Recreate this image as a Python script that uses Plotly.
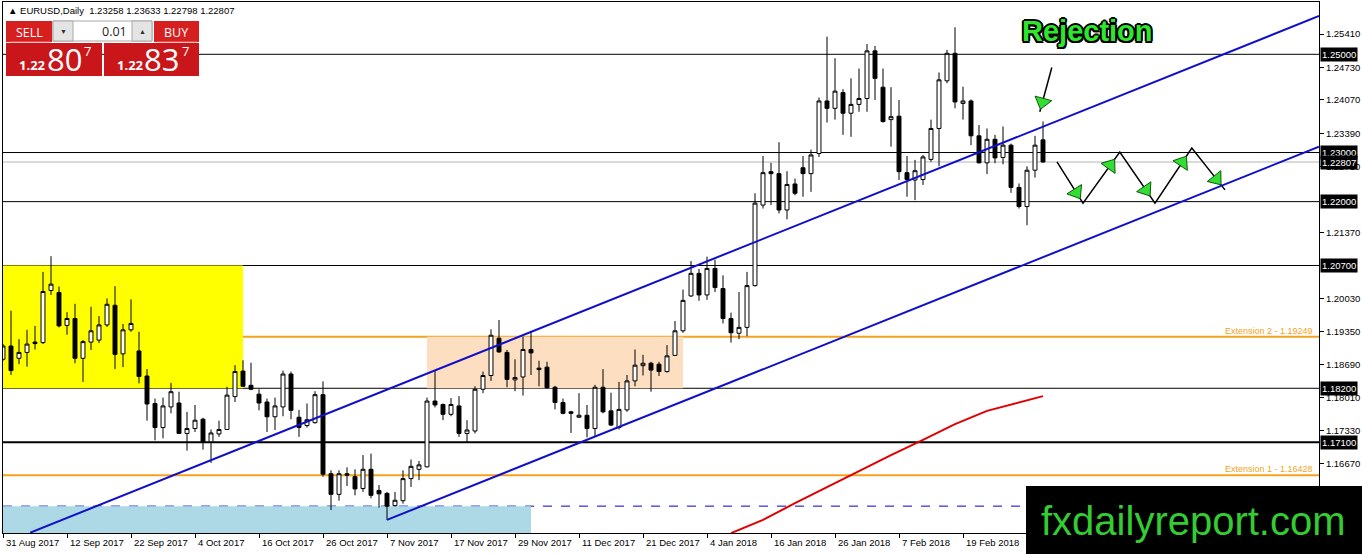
import math
import plotly.graph_objects as go

# ---------------- data ----------------
bars = list(range(131))
opens = [1.1879,1.1906,1.1881,1.1893,1.1914,1.1913,1.2019,1.2015,1.1948,1.1962,
         1.1881,1.1914,1.1918,1.1949,1.1989,1.1890,1.1939,1.1896,1.1845,1.1789,
         1.1740,1.1782,1.1790,1.1728,1.1738,1.1757,1.1711,1.1727,1.1736,1.1803,
         1.1855,1.1826,1.1808,1.1792,1.1762,1.1782,1.1849,1.1761,1.1744,1.1750,
         1.1807,1.1646,1.1604,1.1646,1.1640,1.1616,1.1655,1.1612,1.1606,1.1581,
         1.1591,1.1636,1.1655,1.1660,1.1794,1.1787,1.1767,1.1784,1.1728,1.1733,
         1.1818,1.1846,1.1922,1.1893,1.1837,1.1843,1.1899,1.1861,1.1863,1.1822,
         1.1791,1.1772,1.1761,1.1765,1.1738,1.1822,1.1774,1.1740,1.1776,1.1835,
         1.1866,1.1871,1.1869,1.1854,1.1887,1.1937,1.2008,1.2054,1.2010,1.2064,
         1.2023,1.1962,1.1932,1.1944,1.2029,1.2193,1.2261,1.2257,1.2183,1.2236,
         1.2269,1.2257,1.2298,1.2405,1.2390,1.2422,1.2380,1.2398,1.2410,1.2507,
         1.2433,1.2367,1.2374,1.2259,1.2244,1.2245,1.2286,1.2349,1.2446,1.2502,
         1.2400,1.2405,1.2334,1.2279,1.2327,1.2290,1.2315,1.2229,1.2190,1.2264,
         1.23258]
highs = [1.1910,1.1978,1.1920,1.1939,1.1947,1.2057,1.2089,1.2027,1.1975,1.1992,
         1.1918,1.1986,1.1967,1.2003,1.2028,1.1951,1.2001,1.1935,1.1859,1.1799,
         1.1801,1.1831,1.1813,1.1772,1.1786,1.1760,1.1736,1.1754,1.1823,1.1867,
         1.1877,1.1872,1.1818,1.1799,1.1801,1.1856,1.1854,1.1776,1.1789,1.1814,
         1.1834,1.1653,1.1653,1.1659,1.1655,1.1684,1.1687,1.1623,1.1609,1.1609,
         1.1653,1.1675,1.1672,1.1801,1.1855,1.1789,1.1800,1.1804,1.1755,1.1824,
         1.1854,1.1940,1.1959,1.1898,1.1879,1.1925,1.1937,1.1876,1.1874,1.1825,
         1.1799,1.1774,1.1810,1.1786,1.1827,1.1859,1.1811,1.1833,1.1847,1.1899,
         1.1888,1.1874,1.1874,1.1908,1.1957,1.2021,1.2079,1.2063,1.2088,1.2082,
         1.2050,1.1974,1.2016,1.2057,1.2217,1.2293,1.2279,1.2321,1.2262,1.2247,
         1.2293,1.2306,1.2412,1.2536,1.2492,1.2429,1.2451,1.2471,1.2521,1.2517,
         1.2471,1.2433,1.2407,1.2293,1.2285,1.2295,1.2367,1.2463,1.2509,1.2555,
         1.2434,1.2408,1.2356,1.2349,1.2336,1.2353,1.2318,1.2237,1.2272,1.2334,
         1.23633]
lows = [1.1876,1.1847,1.1869,1.1864,1.1899,1.1910,1.2010,1.1944,1.1929,1.1871,
        1.1833,1.1898,1.1912,1.1945,1.1859,1.1863,1.1935,1.1830,1.1754,1.1714,
        1.1718,1.1769,1.1727,1.1693,1.1731,1.1695,1.1668,1.1721,1.1735,1.1792,
        1.1823,1.1816,1.1775,1.1731,1.1735,1.1763,1.1757,1.1721,1.1740,1.1748,
        1.1640,1.1572,1.1591,1.1621,1.1602,1.1609,1.1596,1.1577,1.1552,1.1579,
        1.1585,1.1619,1.1633,1.1659,1.1781,1.1755,1.1763,1.1721,1.1709,1.1728,
        1.1810,1.1835,1.1892,1.1822,1.1814,1.1805,1.1847,1.1824,1.1820,1.1777,
        1.1767,1.1729,1.1760,1.1720,1.1721,1.1769,1.1743,1.1736,1.1772,1.1824,
        1.1846,1.1813,1.1845,1.1852,1.1886,1.1933,1.2006,1.1998,1.2000,1.2016,
        1.1952,1.1913,1.1920,1.1926,1.2027,1.2186,1.2193,1.2176,1.2164,1.2213,
        1.2210,1.2220,1.2291,1.2361,1.2367,1.2336,1.2332,1.2383,1.2383,1.2407,
        1.2361,1.2312,1.2244,1.2210,1.2203,1.2234,1.2281,1.2272,1.2441,1.2390,
        1.2367,1.2315,1.2278,1.2256,1.2278,1.2276,1.2218,1.2186,1.2152,1.2249,
        1.22798]
closes = [1.1906,1.1856,1.1893,1.1910,1.1911,1.2017,1.2032,1.1947,1.1962,1.1881,
          1.1915,1.1937,1.1949,1.1991,1.1889,1.1939,1.1952,1.1844,1.1788,1.1740,
          1.1784,1.1813,1.1728,1.1738,1.1755,1.1711,1.1729,1.1736,1.1806,1.1854,
          1.1824,1.1818,1.1790,1.1762,1.1784,1.1849,1.1775,1.1740,1.1756,1.1807,
          1.1645,1.1604,1.1646,1.1643,1.1615,1.1655,1.1602,1.1605,1.1580,1.1592,
          1.1636,1.1661,1.1664,1.1794,1.1786,1.1767,1.1787,1.1728,1.1735,1.1818,
          1.1846,1.1928,1.1894,1.1838,1.1842,1.1899,1.1892,1.1858,1.1821,1.1791,
          1.1769,1.1769,1.1765,1.1738,1.1822,1.1772,1.1745,1.1777,1.1835,1.1867,
          1.1871,1.1857,1.1854,1.1886,1.1937,1.1999,1.2054,1.2010,1.2064,1.2025,
          1.1962,1.1933,1.1944,1.2029,1.2197,1.2259,1.2257,1.2183,1.2235,1.2217,
          1.2257,1.2295,1.2405,1.2390,1.2425,1.2380,1.2398,1.2410,1.2507,1.2451,
          1.2363,1.2373,1.2261,1.2245,1.2263,1.2291,1.2349,1.2448,1.2502,1.2403,
          1.2405,1.2334,1.2279,1.2327,1.2289,1.2315,1.2229,1.2190,1.2264,1.2315,
          1.22807]

date_tick_bars = [0, 8, 16, 24, 32, 40, 48, 56, 64, 72, 80, 88, 96, 104, 112, 120]
date_tick_labels = ["31 Aug 2017", "12 Sep 2017", "22 Sep 2017", "4 Oct 2017",
                    "16 Oct 2017", "26 Oct 2017", "7 Nov 2017", "17 Nov 2017",
                    "29 Nov 2017", "11 Dec 2017", "21 Dec 2017", "4 Jan 2018",
                    "16 Jan 2018", "26 Jan 2018", "7 Feb 2018", "19 Feb 2018"]

price_ticks = [1.25410, 1.24730, 1.24070, 1.23390, 1.22710, 1.21370, 1.20030,
               1.19350, 1.18690, 1.18010, 1.17330, 1.16670, 1.15990]

level_lines = [1.25000, 1.23000, 1.22000, 1.20700, 1.18200]
thick_level = 1.17100
bid_level = 1.22807
marked_levels = [1.25000, 1.23000, 1.22807, 1.22000, 1.20700, 1.18200, 1.17100]
ext_levels = [1.19249, 1.16428]
ext_names = ["Extension 2 - 1.19249", "Extension 1 - 1.16428"]
dashed_level = 1.1580

ma_bars = [91, 95, 99, 103, 107, 111, 115, 119, 123, 127, 130]
ma_vals = [1.1525, 1.1552, 1.1586, 1.1619, 1.1651, 1.1684, 1.1715, 1.1747, 1.1774, 1.1792, 1.1804]

upper_x = [3.4, 164.5]
upper_y = [1.1526, 1.2578]
lower_x = [48.0, 164.5]
lower_y = [1.1552, 1.2312]

zig_x = [131.75, 135.0, 139.6, 144.0, 148.6, 152.75]
zig_y = [1.2281, 1.2197, 1.2301, 1.2197, 1.2309, 1.2224]

rej_x = [131.1, 129.6]
rej_y = [1.2473, 1.2383]

yellow_x = [0, 30]
yellow_y = [1.1820, 1.2070]
peach_x = [53, 85]
peach_y = [1.1820, 1.19249]
blue_x = [0, 66]

# ---------------- layout geometry ----------------
W, H = 1362, 554
ML, MR, MT, MB = 3, 43, 2, 21
PW = W - ML - MR
PH = H - MT - MB
XR = [0, 164.5]
YR = [1.15253, 1.26065]
px_per_bar = PW / (XR[1] - XR[0])
px_per_price = PH / (YR[1] - YR[0])


def fx(px):
    return (px - ML) / PW


def fy(py):
    return (MT + PH - py) / PH


AXFONT = dict(family="Liberation Sans, Arial, sans-serif", size=9.5, color="black")
PANEL_FONT = "Open Sans, Noto Sans, sans-serif"

fig = go.Figure()

shapes = []
# background rectangles
shapes.append(dict(type="rect", xref="x", yref="y", x0=yellow_x[0] - 1, x1=yellow_x[1],
                   y0=yellow_y[0], y1=yellow_y[1], fillcolor="#FFFF00", line=dict(width=0), layer="below"))
shapes.append(dict(type="rect", xref="x", yref="y", x0=peach_x[0], x1=peach_x[1],
                   y0=peach_y[0], y1=peach_y[1], fillcolor="#FDDEC0", line=dict(width=0), layer="below"))
shapes.append(dict(type="rect", xref="x", yref="y", x0=blue_x[0] - 1, x1=blue_x[1],
                   y0=YR[0] - 0.01, y1=dashed_level, fillcolor="#ADD8E6", line=dict(width=0), layer="below"))
# horizontal levels
for lv in level_lines:
    shapes.append(dict(type="line", xref="paper", yref="y", x0=0, x1=1, y0=lv, y1=lv,
                       line=dict(color="black", width=1), layer="below"))
shapes.append(dict(type="line", xref="paper", yref="y", x0=0, x1=1, y0=thick_level, y1=thick_level,
                   line=dict(color="black", width=2), layer="below"))
shapes.append(dict(type="line", xref="paper", yref="y", x0=0, x1=1, y0=bid_level, y1=bid_level,
                   line=dict(color="#B4B4B4", width=1), layer="below"))
for lv in ext_levels:
    shapes.append(dict(type="line", xref="paper", yref="y", x0=0, x1=1, y0=lv, y1=lv,
                       line=dict(color="#F5A21E", width=2), layer="below"))
shapes.append(dict(type="line", xref="paper", yref="y", x0=0, x1=1, y0=dashed_level, y1=dashed_level,
                   line=dict(color="#0000CD", width=1, dash="dash"), layer="below"))
# channel lines
for xs, ys in ((upper_x, upper_y), (lower_x, lower_y)):
    shapes.append(dict(type="line", xref="x", yref="y", x0=xs[0], x1=xs[1], y0=ys[0], y1=ys[1],
                       line=dict(color="#1010C8", width=2), layer="above"))

# one-click trading panel (UI decoration, pixel placed)
def prect(x0, y0, x1, y1, fill, line_color=None, lw=0):
    return dict(type="rect", xref="paper", yref="paper", x0=fx(x0), x1=fx(x1), y0=fy(y1), y1=fy(y0),
                fillcolor=fill, line=dict(color=line_color or fill, width=lw), layer="above")

shapes.append(prect(6, 21, 52, 42, "#D61F1F"))
shapes.append(prect(6, 43, 102, 76, "#C8161B"))
shapes.append(prect(154, 21, 199, 42, "#D61F1F"))
shapes.append(prect(104, 43, 199, 76, "#C8161B"))
shapes.append(dict(type="line", xref="paper", yref="paper", x0=fx(10), x1=fx(50), y0=fy(42), y1=fy(42),
                   line=dict(color="#F08080", width=1), layer="above"))
shapes.append(dict(type="line", xref="paper", yref="paper", x0=fx(157), x1=fx(197), y0=fy(42), y1=fy(42),
                   line=dict(color="#F08080", width=1), layer="above"))
shapes.append(prect(53, 21, 152, 41, "#FFFFFF", "#A8A8A8", 1))
shapes.append(prect(53, 21, 73, 41, "#E4E4E4", "#A8A8A8", 1))
shapes.append(prect(132, 21, 152, 41, "#E4E4E4", "#A8A8A8", 1))
# watermark box
shapes.append(dict(type="rect", xref="paper", yref="paper", x0=fx(1026), x1=fx(1364), y0=fy(556), y1=fy(486),
                   fillcolor="black", line=dict(width=0), layer="above"))

# ---------------- traces ----------------
fig.add_trace(go.Candlestick(
    x=bars, open=opens, high=highs, low=lows, close=closes,
    increasing=dict(line=dict(color="black", width=1), fillcolor="white"),
    decreasing=dict(line=dict(color="black", width=1), fillcolor="black"),
    whiskerwidth=0, hoverinfo="skip", showlegend=False))

fig.add_trace(go.Scatter(x=ma_bars, y=ma_vals, mode="lines",
                         line=dict(color="#E00000", width=2), hoverinfo="skip", showlegend=False))

# projection zig-zag + rejection arrow
fig.add_trace(go.Scatter(x=zig_x, y=zig_y, mode="lines", line=dict(color="black", width=1.5),
                         hoverinfo="skip", showlegend=False))
fig.add_trace(go.Scatter(x=rej_x, y=rej_y, mode="lines", line=dict(color="black", width=1.5),
                         hoverinfo="skip", showlegend=False))

head_x, head_y, head_a = [], [], []
segments = [((zig_x[k], zig_y[k]), (zig_x[k + 1], zig_y[k + 1]), 0.74) for k in range(len(zig_x) - 1)]
segments.append(((rej_x[0], rej_y[0]), (rej_x[1], rej_y[1]), 0.78))
for (x1, y1), (x2, y2), f in segments:
    head_x.append(x1 + f * (x2 - x1))
    head_y.append(y1 + f * (y2 - y1))
    dxp = (x2 - x1) * px_per_bar
    dyp = -(y2 - y1) * px_per_price
    head_a.append(math.degrees(math.atan2(dxp, -dyp)))
fig.add_trace(go.Scatter(x=head_x, y=head_y, mode="markers",
                         marker=dict(symbol="triangle-up", size=15, angle=head_a, color="#33DD33",
                                     line=dict(color="#0B5A0B", width=1)),
                         hoverinfo="skip", showlegend=False))

# ---------------- annotations ----------------
ann = []
for b, lab in zip(date_tick_bars, date_tick_labels):
    ann.append(dict(x=b, y=0, xref="x", yref="paper", text=lab, showarrow=False,
                    xanchor="left", yanchor="top", xshift=1, yshift=-2, font=AXFONT))
for lv in marked_levels:
    ann.append(dict(x=1, y=lv, xref="paper", yref="y", text=f"{lv:.5f}", showarrow=False,
                    xanchor="left", yanchor="middle", xshift=1, bgcolor="black", borderpad=1,
                    font=dict(family=AXFONT["family"], size=9.5, color="white")))
for lv, name in zip(ext_levels, ext_names):
    ann.append(dict(x=1, y=lv, xref="paper", yref="y", text=name, showarrow=False,
                    xanchor="right", yanchor="bottom", xshift=-4, yshift=-1,
                    font=dict(family=AXFONT["family"], size=9, color="#F5A21E")))

ann.append(dict(x=fx(6), y=fy(11), xref="paper", yref="paper", xanchor="left", yanchor="middle",
                text="▲ EURUSD,Daily  1.23258 1.23633 1.22798 1.22807", showarrow=False,
                font=dict(family=AXFONT["family"], size=9.5, color="black")))


def ptext(txt, x, y, size, color="white", anchor="center", bold=False):
    t = f"<b>{txt}</b>" if bold else txt
    return dict(x=fx(x), y=fy(y), xref="paper", yref="paper", text=t, showarrow=False,
                xanchor=anchor, yanchor="middle", font=dict(family=PANEL_FONT, size=size, color=color))

ann += [
    ptext("SELL", 29, 32, 12.5),
    ptext("BUY", 176, 32, 12.5),
    ptext("▼", 63, 31, 7, "#333333"),
    ptext("▲", 142, 31, 7, "#333333"),
    ptext("0.01", 129, 31, 12.5, "#222222", "right"),
    ptext("1.22", 32, 65, 13, bold=True),
    ptext("80", 64, 59, 31),
    ptext("7", 87, 51, 13),
    ptext("1.22", 130, 65, 13, bold=True),
    ptext("83", 161, 59, 31),
    ptext("7", 185, 51, 13),
]

outline = ("-1.5px -1.5px 0 #000, 1.5px -1.5px 0 #000, -1.5px 1.5px 0 #000, 1.5px 1.5px 0 #000, "
           "0 2px 0 #000, 2px 0 0 #000, -2px 0 0 #000, 0 -2px 0 #000")
ann.append(dict(x=fx(1087), y=fy(31), xref="paper", yref="paper", text="<b>Rejection</b>", showarrow=False,
                xanchor="center", yanchor="middle",
                font=dict(family="Liberation Sans, Arial, sans-serif", size=29, color="#2EE62E", shadow=outline)))
ann.append(dict(x=fx(1193), y=fy(521), xref="paper", yref="paper", text="fxdailyreport.com", showarrow=False,
                xanchor="center", yanchor="middle",
                font=dict(family="Liberation Sans, Arial, sans-serif", size=40, color="#33CC33")))

fig.update_layout(
    width=W, height=H, autosize=False,
    margin=dict(l=ML, r=MR, t=MT, b=MB, pad=0),
    paper_bgcolor="white", plot_bgcolor="white",
    showlegend=False, shapes=shapes, annotations=ann,
    xaxis=dict(range=XR, showgrid=False, zeroline=False, rangeslider=dict(visible=False),
               showline=True, linecolor="black", linewidth=1, mirror=True,
               tickmode="array", tickvals=date_tick_bars, ticktext=[""] * len(date_tick_bars),
               ticks="outside", ticklen=4, tickcolor="black", showticklabels=False, fixedrange=True),
    yaxis=dict(range=YR, side="right", showgrid=False, zeroline=False,
               showline=True, linecolor="black", linewidth=1, mirror=True,
               tickmode="array", tickvals=price_ticks, ticktext=[f"{v:.5f}" for v in price_ticks],
               ticks="outside", ticklen=4, tickcolor="black", tickfont=AXFONT, fixedrange=True),
)

fig.write_html("out.html", config={"displayModeBar": False},
               post_script="document.body.style.margin='0';document.body.style.overflow='hidden';")
